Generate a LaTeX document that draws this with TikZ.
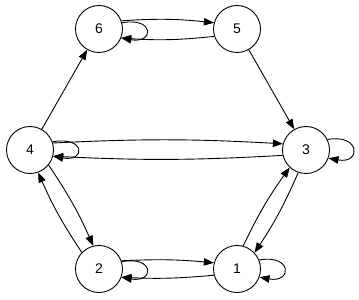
\documentclass[tikz,border=0pt]{standalone}
\usepackage{fontspec}
\setmainfont{Liberation Sans}
\usetikzlibrary{arrows.meta}
\begin{document}
\begin{tikzpicture}[x=1pt,y=1pt,
  vtx/.style={circle,draw,line width=0.9pt,minimum size=47pt,inner sep=0pt,font=\fontsize{14}{16}\selectfont},
  arr/.style={line width=0.9pt,-{Triangle[length=10pt,width=7.5pt]}}]
\useasboundingbox (0,0) rectangle (359,300);
\node[vtx] (n6) at (99,271) {6};
\node[vtx] (n5) at (237,271) {5};
\node[vtx] (n4) at (30,150) {4};
\node[vtx] (n3) at (306,150) {3};
\node[vtx] (n2) at (99,31) {2};
\node[vtx] (n1) at (237,31) {1};
% straight edges
\draw[arr] (n4) -- (n6);
\draw[arr] (n5) -- (n3);
% 6 <-> 5
\draw[arr] (n6.20) to[bend left=5] (n5.165);
\draw[arr] (n5.198) to[bend left=5] (n6.-22);
\draw[arr] (n6.15) .. controls +(33,6) and +(33,-6) .. (n6.-22);
% 4 <-> 3
\draw[arr] (n4.17) to[bend left=3] (n3.165);
\draw[arr] (n3.193) to[bend left=3] (n4.-15);
\draw[arr] (n4.20) .. controls +(33,6) and +(33,-6) .. (n4.-15);
\draw[arr] (n3.26) .. controls +(33,6) and +(33,-6) .. (n3.-20);
% 4 <-> 2
\draw[arr] (n4.-39) to[bend left=5] (n2.104);
\draw[arr] (n2.136) to[bend left=5] (n4.-70);
% 1 <-> 3
\draw[arr] (n1.75) to[bend left=5] (n3.-133);
\draw[arr] (n3.-109) to[bend left=5] (n1.43);
% 2 <-> 1
\draw[arr] (n2.20) to[bend left=4] (n1.165);
\draw[arr] (n1.195) to[bend left=4] (n2.-20);
\draw[arr] (n2.18) .. controls +(33,6) and +(33,-6) .. (n2.-20);
\draw[arr] (n1.22) .. controls +(33,6) and +(33,-6) .. (n1.-20);
\end{tikzpicture}
\end{document}
